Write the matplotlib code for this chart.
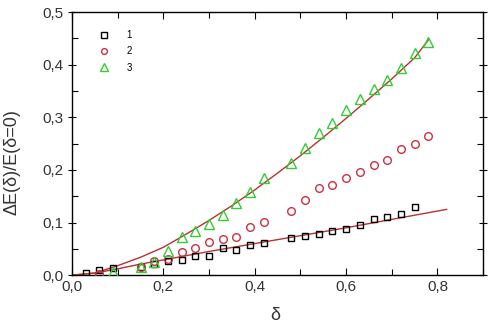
import matplotlib
matplotlib.use("Agg")
import matplotlib.pyplot as plt
from matplotlib.ticker import MultipleLocator, FuncFormatter

# series 1 (squares)
x1 = [0.03, 0.06, 0.09, 0.15, 0.18, 0.21, 0.24, 0.27, 0.30, 0.33, 0.36, 0.39, 0.42,
      0.48, 0.51, 0.54, 0.57, 0.60, 0.63, 0.66, 0.69, 0.72, 0.75]
y1 = [0.004, 0.010, 0.014, 0.016, 0.022, 0.027, 0.029, 0.036, 0.036, 0.051, 0.048, 0.057, 0.061,
      0.070, 0.074, 0.078, 0.084, 0.087, 0.095, 0.106, 0.110, 0.116, 0.129]

# series 2 (circles)
x2 = [0.06, 0.15, 0.18, 0.21, 0.24, 0.27, 0.30, 0.33, 0.36, 0.39, 0.42,
      0.48, 0.51, 0.54, 0.57, 0.60, 0.63, 0.66, 0.69, 0.72, 0.75, 0.78]
y2 = [0.003, 0.016, 0.026, 0.030, 0.044, 0.051, 0.063, 0.068, 0.072, 0.091, 0.101,
      0.122, 0.143, 0.165, 0.171, 0.184, 0.196, 0.209, 0.219, 0.240, 0.249, 0.264]

# series 3 (triangles)
x3 = [0.09, 0.15, 0.18, 0.21, 0.24, 0.27, 0.30, 0.33, 0.36, 0.39, 0.42,
      0.48, 0.51, 0.54, 0.57, 0.60, 0.63, 0.66, 0.69, 0.72, 0.75, 0.78]
y3 = [0.006, 0.015, 0.025, 0.046, 0.072, 0.084, 0.097, 0.114, 0.137, 0.158, 0.184,
      0.213, 0.241, 0.270, 0.289, 0.314, 0.335, 0.354, 0.371, 0.394, 0.422, 0.443]

# fitted curves
fit1_x = [0.0, 0.05, 0.1, 0.15, 0.2, 0.3, 0.4, 0.5, 0.6, 0.7, 0.82]
fit1_y = [0.0, 0.004, 0.012, 0.021, 0.029, 0.045, 0.060, 0.075, 0.090, 0.106, 0.125]
fit3_x = [0.0, 0.05, 0.1, 0.15, 0.2, 0.25, 0.3, 0.35, 0.4, 0.45, 0.5, 0.55, 0.6,
          0.65, 0.7, 0.75, 0.78]
fit3_y = [0.0, 0.004, 0.018, 0.034, 0.053, 0.078, 0.104, 0.132, 0.162, 0.194, 0.227,
          0.262, 0.298, 0.335, 0.373, 0.413, 0.447]

plt.rcParams['font.family'] = ['Liberation Sans', 'DejaVu Sans']

fig = plt.figure(figsize=(4.9, 3.26), dpi=100)
ax = fig.add_axes([0.147, 0.156, 0.839, 0.807])

line_col = '#b83232'
ax.plot(fit1_x, fit1_y, color=line_col, lw=1.0, zorder=2)
ax.plot(fit3_x, fit3_y, color=line_col, lw=1.0, zorder=2)

ax.plot(x1, y1, ls='none', marker='s', ms=5, mfc='none', mec='black', mew=1.0, label='1', zorder=3)
ax.plot(x2, y2, ls='none', marker='o', ms=5.5, mfc='none', mec='#cc3040', mew=1.0, label='2', zorder=3)
ax.plot(x3, y3, ls='none', marker='^', ms=7, mfc='none', mec='#33cc33', mew=1.0, label='3', zorder=3)

ax.set_xlim(0, 0.9)
ax.set_ylim(0, 0.5)

comma = FuncFormatter(lambda v, p: f"{v:.1f}".replace('.', ','))
ax.xaxis.set_major_locator(MultipleLocator(0.2))
ax.xaxis.set_minor_locator(MultipleLocator(0.1))
ax.yaxis.set_major_locator(MultipleLocator(0.1))
ax.yaxis.set_minor_locator(MultipleLocator(0.05))
ax.xaxis.set_major_formatter(comma)
ax.yaxis.set_major_formatter(comma)

ax.tick_params(which='both', direction='in', top=True, right=True, labelsize=11, width=0.8,
               labelcolor='#333333')
ax.tick_params(which='major', length=5)
ax.tick_params(which='minor', length=4)
ax.tick_params(axis='y', which='major', left=True, direction='inout', length=6)

for s in ax.spines.values():
    s.set_linewidth(1.0)

ax.set_xlabel('δ', fontsize=13, color='#333333')
ax.set_ylabel('ΔE(δ)/E(δ=0)', fontsize=13, color='#333333')
ax.xaxis.set_label_coords(0.494, -0.12)
ax.yaxis.set_label_coords(-0.125, 0.43)

ax.legend(loc='upper left', bbox_to_anchor=(0.045, 0.965), frameon=False, fontsize=7,
          handlelength=1.0, handletextpad=1.8, labelspacing=0.65, markerscale=0.75)

fig.savefig('out.png', dpi=100)
